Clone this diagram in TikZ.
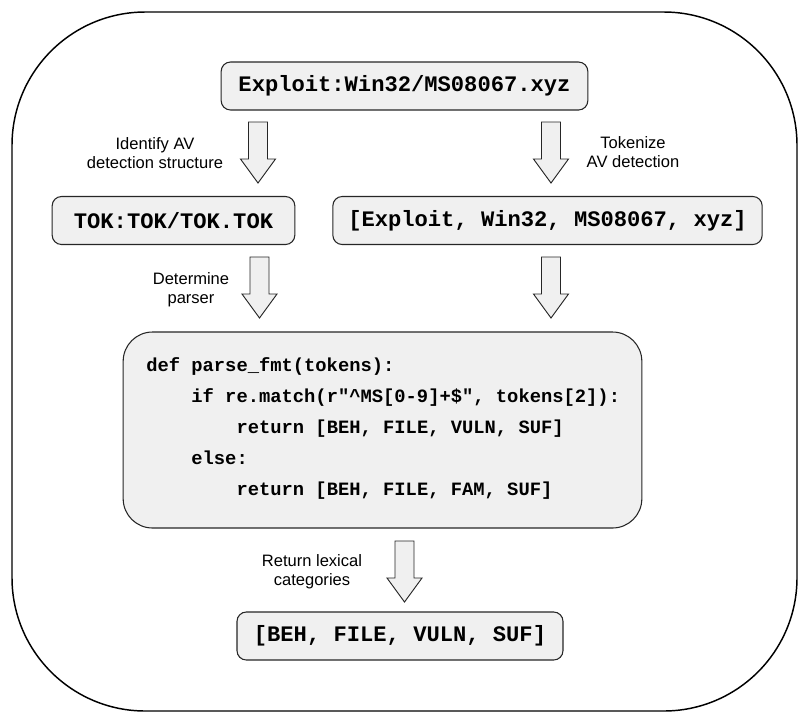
\documentclass[tikz,border=0pt]{standalone}
\usepackage{fontspec}
\setmainfont{Liberation Sans}
\newfontfamily\codefont{Liberation Mono}
\usetikzlibrary{positioning}

\begin{document}
\begin{tikzpicture}
[x=0.75pt,y=-0.75pt
,box/.style={draw=black!85,fill=black!6,rounded corners=7pt,line width=0.8pt
  ,font=\codefont\bfseries\fontsize{16.6}{19}\selectfont,minimum height=36pt,inner sep=0pt}
,codebox/.style={box,rounded corners=22pt}
,codetext/.style={align=left,inner sep=0pt,font=\codefont\bfseries\fontsize{14.1}{23.25}\selectfont}
,lbl/.style={align=center,inner sep=0pt,font=\fontsize{12.4}{14.25}\selectfont}
,fatarrow/.pic={\draw[black!85,fill=black!6,line width=0.7pt,line join=miter]
  (-9.5,0) -- (9.5,0) -- (9.5,37) -- (17.5,37) -- (0,61) -- (-17.5,37) -- (-9.5,37) -- cycle;}
]
\useasboundingbox (0,0) rectangle (810,726);
% outer frame
\draw[line width=1.1pt,rounded corners=100pt] (12,12) rectangle (797,711);

% boxes
\node[box,minimum width=275pt] (detect) at (404.5,86) {Exploit:Win32/MS08067.xyz};
\node[box,minimum width=182pt] (struct) at (173.5,220.5) {TOK:TOK/TOK.TOK};
\node[box,minimum width=322pt] (tokens) at (547.5,220.5) {[Exploit, Win32, MS08067, xyz]};
\node[codebox,minimum width=389pt,minimum height=147pt] (parser) at (382.5,430) {};
\node[codetext,anchor=north west] (code) at (146,357) {def parse\_fmt(tokens):\\
\phantom{xxxx}if re.match(r"\textasciicircum MS[0-9]+\$", tokens[2]):\\
\phantom{xxxxxxxx}return [BEH, FILE, VULN, SUF]\\
\phantom{xxxx}else:\\
\phantom{xxxxxxxx}return [BEH, FILE, FAM, SUF]};
\node[box,minimum width=244.5pt] (cats) at (400,636) {[BEH, FILE, VULN, SUF]};

% block arrows
\pic (a1) at (258,122) {fatarrow};
\pic (a2) at (551,122) {fatarrow};
\pic (a3) at (259.5,257) {fatarrow};
\pic (a4) at (551,257) {fatarrow};
\pic (a5) at (404.5,541) {fatarrow};

% labels
\node[lbl] (l1) at (155,153) {Identify AV\\detection structure};
\node[lbl] (l2) at (633,152) {Tokenize\\AV detection};
\node[lbl] (l3) at (191,290) {Determine\\parser};
\node[lbl] (l5) at (312,572) {Return lexical\\categories};
\end{tikzpicture}
\end{document}
